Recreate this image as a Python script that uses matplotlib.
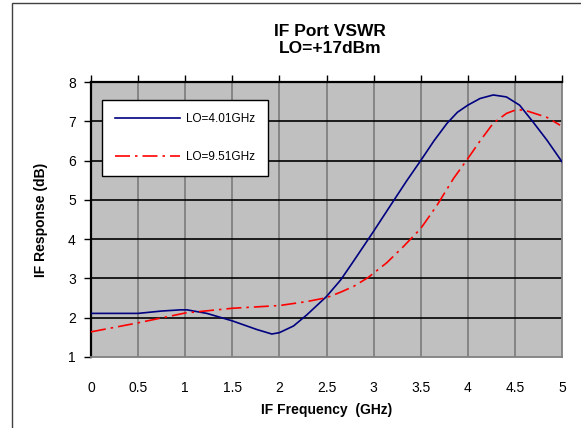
import matplotlib.pyplot as plt
from matplotlib.patches import Rectangle

plt.rcParams['font.family'] = ['Liberation Sans', 'DejaVu Sans']

# LO=4.01GHz
freq_a = [0, 0.5, 0.75, 0.95, 1.02, 1.23, 1.5, 1.76, 1.92, 2.0, 2.15, 2.29, 2.5, 2.65,
          2.79, 2.93, 3.0, 3.21, 3.35, 3.5, 3.64, 3.78, 3.89, 4.0, 4.13, 4.27, 4.41,
          4.55, 4.69, 4.84, 5.0]
resp_a = [2.11, 2.11, 2.17, 2.2, 2.2, 2.11, 1.92, 1.7, 1.585, 1.62, 1.79, 2.07, 2.54, 2.96,
          3.45, 3.95, 4.2, 4.97, 5.48, 6.0, 6.5, 6.95, 7.23, 7.41, 7.58, 7.67, 7.62,
          7.41, 6.99, 6.52, 5.97]

# LO=9.51GHz
freq_b = [0, 0.5, 1.0, 1.5, 2.0, 2.29, 2.5, 2.65, 2.79, 2.94, 3.14, 3.32, 3.5, 3.67,
          3.85, 4.0, 4.13, 4.27, 4.41, 4.52, 4.62, 4.84, 4.98]
resp_b = [1.64, 1.87, 2.12, 2.24, 2.31, 2.41, 2.51, 2.65, 2.8, 3.02, 3.4, 3.82, 4.27, 4.85,
          5.55, 6.05, 6.5, 6.95, 7.2, 7.3, 7.27, 7.1, 6.9]

xticks = [0, 0.5, 1, 1.5, 2, 2.5, 3, 3.5, 4, 4.5, 5]
xlabels = ['0', '0.5', '1', '1.5', '2', '2.5', '3', '3.5', '4', '4.5', '5']
yticks = [1, 2, 3, 4, 5, 6, 7, 8]

W, H = 581, 428
fig = plt.figure(figsize=(W / 100, H / 100), dpi=100)
ax = fig.add_axes([91 / W, 1 - 357 / H, (562 - 91) / W, (357 - 82) / H])
ax.set_facecolor('#C0C0C0')

# outer frame of the chart
fig.patches.append(Rectangle((12 / W, -0.1), 1.2, 1 - 3 / H + 0.1, transform=fig.transFigure,
                             fill=False, edgecolor='#404040', linewidth=1.0))

ax.set_xlim(0, 5)
ax.set_ylim(1, 8)

# grid
for x in xticks[1:-1]:
    ax.axvline(x, color='#808080', linewidth=1.3, zorder=1)
for y in yticks[1:-1]:
    ax.axhline(y, color='black', linewidth=1.2, zorder=1)

ax.plot(freq_a, resp_a, color='#000080', linewidth=1.2, label='LO=4.01GHz', zorder=3)
ax.plot(freq_b, resp_b, color='#FF0000', linewidth=1.2, linestyle=(0, (9, 3, 1.5, 3)),
        label='LO=9.51GHz', zorder=3)

ax.spines['left'].set_color('black')
ax.spines['left'].set_linewidth(1.6)
ax.spines['top'].set_color('black')
ax.spines['top'].set_linewidth(1.6)
ax.spines['right'].set_color('#808080')
ax.spines['right'].set_linewidth(1.3)
ax.spines['bottom'].set_color('#808080')
ax.spines['bottom'].set_linewidth(1.3)

ax.set_xticks(xticks)
ax.set_xticklabels(xlabels, fontsize=10)
ax.set_yticks(yticks)
ax.set_yticklabels([str(v) for v in yticks], fontsize=10)
ax.tick_params(axis='y', direction='out', length=5, width=1, pad=6, left=True)
ax.tick_params(axis='x', direction='out', length=5, width=1, bottom=False, top=True,
               labelbottom=True, labeltop=False, pad=12)

ax.set_xlabel('IF Frequency  (GHz)', fontsize=10, fontweight='bold', labelpad=6)
ax.set_ylabel('IF Response (dB)', fontsize=10, fontweight='bold', labelpad=14)

fig.text(330 / W, 1 - 40 / H, 'IF Port VSWR\nLO=+17dBm', ha='center', va='center',
         fontsize=12.5, fontweight='bold', linespacing=1.2)

leg = ax.legend(loc='upper left', bbox_to_anchor=((102 - 91) / (562 - 91), 1 - (100 - 82) / (357 - 82)),
                fontsize=8.5, frameon=True, fancybox=False, edgecolor='black', facecolor='white',
                framealpha=1, borderpad=1.1, labelspacing=2.2, handlelength=5.5, handletextpad=0.5,
                borderaxespad=0)
leg.get_frame().set_linewidth(1.0)

fig.savefig('out.png', dpi=100)
